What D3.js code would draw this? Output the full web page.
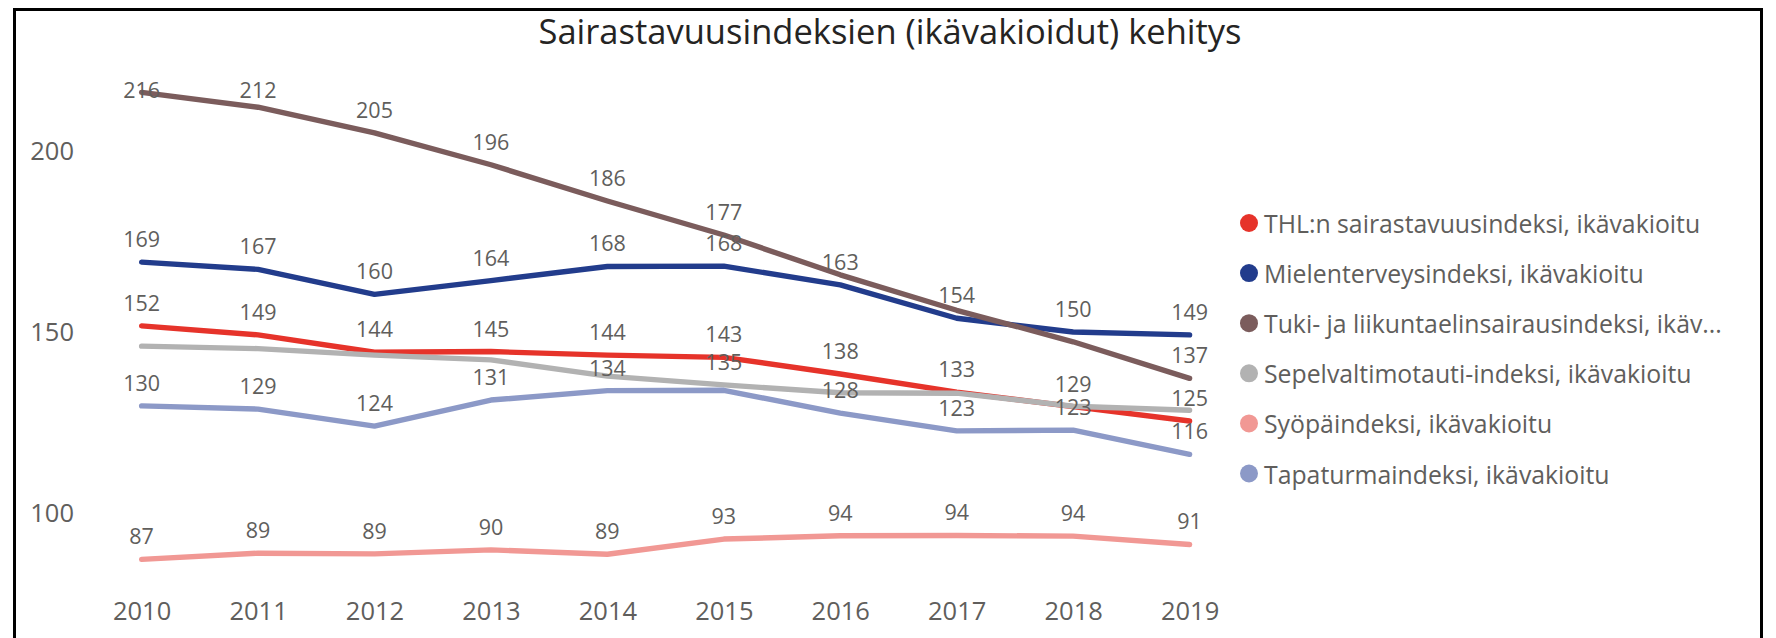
<!DOCTYPE html>
<html lang="fi">
<head>
<meta charset="utf-8">
<title>Sairastavuusindeksien (ikävakioidut) kehitys</title>
<script src="https://cdn.jsdelivr.net/npm/d3@7"></script>
<style>
	html, body { margin: 0; padding: 0; background: #ffffff; }
	svg { display: block; font-family: "Open Sans", "Noto Sans", sans-serif; }
</style>
</head>
<body>
<svg id="chart" width="1776" height="638"></svg>
<script>
(function () {
	'use strict';

	// --- Data ---
	var years = ['2010', '2011', '2012', '2013', '2014', '2015', '2016', '2017', '2018', '2019'];

	var seriesNames = [
		'THL:n sairastavuusindeksi, ikävakioitu',
		'Mielenterveysindeksi, ikävakioitu',
		'Tuki- ja liikuntaelinsairausindeksi, ikävakioitu',
		'Sepelvaltimotauti-indeksi, ikävakioitu',
		'Syöpäindeksi, ikävakioitu',
		'Tapaturmaindeksi, ikävakioitu'
	];

	var thlValues       = [151.7, 149.2, 144.4, 144.6, 143.6, 143.0, 138.4, 133.4, 129.4, 125.4];
	var mieliValues     = [169.3, 167.3, 160.4, 164.2, 168.1, 168.2, 163.0, 153.8, 150.0, 149.2];
	var tukiValues      = [216.2, 212.1, 205.0, 196.2, 186.2, 176.8, 165.8, 156.0, 147.3, 137.2];
	var sepelValues     = [146.1, 145.4, 143.6, 142.3, 137.8, 135.4, 133.2, 133.1, 129.5, 128.4];
	var syopaValues     = [87.2, 88.9, 88.7, 89.8, 88.6, 92.8, 93.7, 93.8, 93.6, 91.3];
	var tapaturmaValues = [129.6, 128.7, 124.0, 131.2, 133.8, 133.9, 127.6, 122.7, 122.9, 116.2];

	var yTicks = [100, 150, 200];

	var seriesColors = ['#e6332a', '#223c8c', '#7b5c5c', '#b2b2b2', '#f19894', '#8c99c7'];

	var series = [thlValues, mieliValues, tukiValues, sepelValues, syopaValues, tapaturmaValues]
		.map(function (vals, i) {
			return { name: seriesNames[i], color: seriesColors[i], values: vals };
		});

	// --- Layout ---
	var TEXT_GRAY  = '#605e5c';
	var TITLE_GRAY = '#252423';
	var PLOT_TOP   = 78.6;
	var PLOT_BOT   = 585.4;
	var LABEL_OFF  = 23.5;   // data label centre above the point
	var LABEL_H    = 22;     // labels closer than this in y are dropped

	var svg = d3.select('#chart');

	var x = d3.scalePoint()
		.domain(years)
		.range([83.4, 1247.8])
		.padding(0.5);

	var y = d3.scaleLinear()
		.domain([80, 220])
		.range([PLOT_BOT, PLOT_TOP]);

	// visual frame (bottom edge falls outside the picture)
	svg.append('path')
		.attr('d', 'M14.5,650V9.5H1761.5V650')
		.attr('fill', 'none')
		.attr('stroke', '#000')
		.attr('stroke-width', 3);

	svg.append('text')
		.attr('x', 890)
		.attr('y', 44)
		.attr('text-anchor', 'middle')
		.attr('fill', TITLE_GRAY)
		.style('font-size', '34.5px')
		.text('Sairastavuusindeksien (ikävakioidut) kehitys');

	// axes: labels only
	var yAxis = svg.append('g')
		.attr('transform', 'translate(80,0)')
		.call(d3.axisLeft(y).tickValues(yTicks).tickSize(0).tickPadding(6));
	var xAxis = svg.append('g')
		.attr('transform', 'translate(0,596)')
		.call(d3.axisBottom(x).tickSize(0).tickPadding(6));

	[yAxis, xAxis].forEach(function (ax) {
		ax.select('.domain').remove();
		ax.selectAll('text')
			.attr('fill', TEXT_GRAY)
			.style('font-family', '"Open Sans", sans-serif')
			.style('font-size', '25.5px');
	});

	// lines
	var line = d3.line()
		.x(function (d, i) { return x(years[i]); })
		.y(function (d) { return y(d); });

	svg.append('g').selectAll('path')
		.data(series)
		.enter()
		.append('path')
		.attr('d', function (s) { return line(s.values); })
		.attr('fill', 'none')
		.attr('stroke', function (s) { return s.color; })
		.attr('stroke-width', 5.4)
		.attr('stroke-linecap', 'round')
		.attr('stroke-linejoin', 'round');

	// data labels: above the point, kept inside the plot, overlaps dropped
	var labels = [];
	years.forEach(function (yr, i) {
		var placed = [];
		series.forEach(function (s) {
			var cy = Math.max(y(s.values[i]) - LABEL_OFF, PLOT_TOP + LABEL_H / 2);
			var clash = placed.some(function (p) { return Math.abs(p - cy) < LABEL_H; });
			if (clash) return;
			placed.push(cy);
			labels.push({ x: x(yr), y: cy, text: d3.format('.0f')(s.values[i]) });
		});
	});

	svg.append('g').selectAll('text')
		.data(labels)
		.enter()
		.append('text')
		.attr('x', function (d) { return d.x; })
		.attr('y', function (d) { return d.y; })
		.attr('text-anchor', 'middle')
		.attr('dominant-baseline', 'central')
		.attr('fill', TEXT_GRAY)
		.style('font-size', '21.5px')
		.text(function (d) { return d.text; });

	// legend
	var legend = svg.append('g').attr('transform', 'translate(1249,223)');
	var item = legend.selectAll('g')
		.data(series)
		.enter()
		.append('g')
		.attr('transform', function (d, i) { return 'translate(0,' + (i * 50.1) + ')'; });

	item.append('circle')
		.attr('r', 9)
		.attr('fill', function (d) { return d.color; });

	item.append('text')
		.attr('x', 15)
		.attr('dominant-baseline', 'central')
		.attr('fill', TEXT_GRAY)
		.style('font-size', '24.8px')
		.text(function (d) { return d.name; })
		.each(function (d) {
			var el = this, full = d.name, n = full.length;
			var maxW = 466;
			if (el.getComputedTextLength() <= maxW) return;
			while (n > 0) {
				el.textContent = full.slice(0, n) + '...';
				if (el.getComputedTextLength() <= maxW) break;
				n--;
			}
		});
})();
</script>
</body>
</html>
